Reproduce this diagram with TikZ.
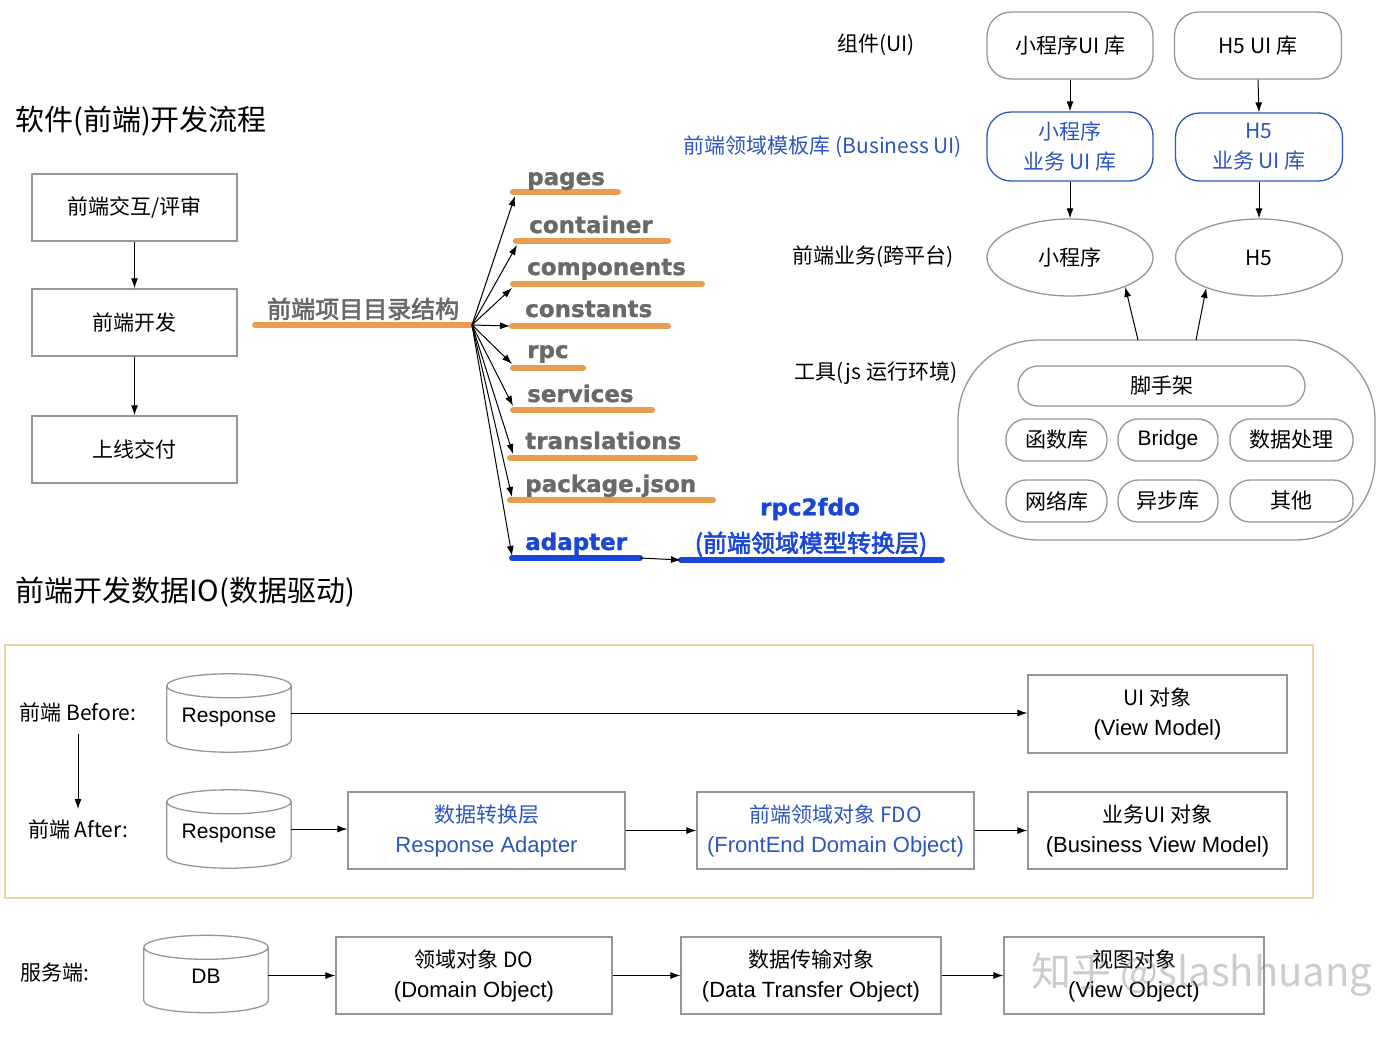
\documentclass[tikz,border=0pt]{standalone}
\usepackage{fontspec}
\setmainfont{Noto Sans CJK SC}
\newfontfamily\cjkbold[FakeBold=2.5]{Noto Sans CJK SC}
\newfontfamily\dirfont[BoldFeatures={FakeBold=1.2}]{DejaVu Sans}
\newfontfamily\lat{Liberation Sans}
\usetikzlibrary{arrows.meta,calc,shapes.geometric}
\definecolor{gline}{RGB}{150,150,150}
\definecolor{uiblue}{RGB}{45,85,190}
\definecolor{vblue}{RGB}{25,70,215}
\definecolor{orng}{RGB}{232,158,78}
\definecolor{dgray}{RGB}{105,105,105}
\definecolor{tanline}{RGB}{236,212,165}
\newcommand\fsz[2]{\fontsize{#1}{#2}\selectfont}
\newcommand\lowtext[1]{\raisebox{-4pt}[0.72em][0.2em]{#1}}
\newcommand\cylshape[1]{%
  \draw[draw=gline, line width=1.3pt] let \p1=(#1.north west), \p2=(#1.south east), \n1={(\x2-\x1)/2} in
    (\x1,\y1-12pt) -- (\x1,\y2+12pt) arc[start angle=180, end angle=360, x radius=\n1, y radius=12pt] -- (\x2,\y1-12pt)
    arc[start angle=0, end angle=360, x radius=\n1, y radius=12pt];}
\begin{document}
\begin{tikzpicture}[x=1pt,y=-1pt,
  box/.style={draw=gline, line width=1.3pt, rectangle, align=center, inner sep=0pt, font=\fsz{21}{30}},
  rbox/.style={box, rounded corners=24pt},
  bbox/.style={box, draw=uiblue, text=uiblue, rounded corners=24pt},
  capsule/.style={box, rounded corners=20pt},
  oval/.style={draw=gline, line width=1.3pt, ellipse, inner sep=0pt, font=\fsz{21}{30}},
  cylnode/.style={inner sep=0pt, minimum width=124, minimum height=78, font=\lat\fsz{21}{26}},
  lbl/.style={inner sep=0pt, font=\fsz{21}{30}},
  arr/.style={-{Latex[length=10pt,width=7pt]}, line width=1pt, black},
  dirline/.style={line width=6pt, line cap=round, orng},
  bline/.style={line width=6pt, line cap=round, vblue},
  dirtxt/.style={font=\dirfont\bfseries\fsz{23}{23}, text=dgray, anchor=base west, inner sep=0pt}]
\useasboundingbox[fill=white] (0,0) rectangle (1400,1044);

% ---------- title 1 and flow ----------
\node[anchor=west, inner sep=0pt, font=\fsz{29}{29}] (title1) at (15,121) {软件(前端)开发流程};
\node[box, minimum width=205, minimum height=67] (f1) at (134.5,207.5) {前端交互/评审};
\node[box, minimum width=205, minimum height=67] (f2) at (134.5,322.5) {前端开发};
\node[box, minimum width=205, minimum height=67] (f3) at (134.5,449.5) {上线交付};
\draw[arr] (f1.south) -- (f2.north);
\draw[arr] (f2.south) -- (f3.north);

% ---------- directory structure ----------
\coordinate (hub) at (472,325);
\coordinate (rootstart) at (255,325);
\draw[dirline] (rootstart) -- (hub);
\node[anchor=base west, inner sep=0pt, font=\cjkbold\fsz{24}{24}, text=dgray] (root) at (267,318) {前端项目目录结构};

\draw[dirline] (513,192) -- (618,192);
\draw[dirline] (516,241) -- (668,241);
\draw[dirline] (513,284) -- (702,284);
\draw[dirline] (512,326) -- (668,326);
\draw[dirline] (513,368) -- (583,368);
\draw[dirline] (513,410) -- (652,410);
\draw[dirline] (510,458) -- (695,458);
\draw[dirline] (510,500) -- (713,500);
\coordinate (ad1) at (512,558);
\coordinate (ad2) at (640,558);
\draw[bline] (ad1) -- (ad2);

\node[dirtxt] (dpages) at (527,185) {pages};
\node[dirtxt] (dcont) at (529,233) {container};
\node[dirtxt] (dcomp) at (527,275) {components};
\node[dirtxt] (dconst) at (525,317) {constants};
\node[dirtxt] (drpc) at (527,358) {rpc};
\node[dirtxt] (dserv) at (527,402) {services};
\node[dirtxt] (dtrans) at (525,449) {translations};
\node[dirtxt] (dpkg) at (525,492) {package.json};
\node[dirtxt, text=vblue] (dadapt) at (525,550) {adapter};

\coordinate (a1) at (515,196);
\coordinate (a2) at (517,245);
\coordinate (a3) at (512,288);
\coordinate (a4) at (510,326);
\coordinate (a5) at (512,364);
\coordinate (a6) at (513,406);
\coordinate (a7) at (513,454);
\coordinate (a8) at (512,497);
\coordinate (a9) at (512,556);
\foreach \t in {a1,a2,a3,a4,a5,a6,a7,a8,a9} \draw[arr] (hub) -- (\t);

\coordinate (rb1) at (681,560);
\coordinate (rb2) at (942,560);
\draw[bline] (rb1) -- (rb2);
\draw[arr] (ad2) -- (rb1);
\node[inner sep=0pt, font=\dirfont\bfseries\fsz{23}{23}, text=vblue] (rpcfdo) at (810,509) {rpc2fdo};
\node[anchor=base, inner sep=0pt, font=\cjkbold\fsz{24}{24}, text=vblue] (convlayer) at (811,552) {(前端领域模型转换层)};

% ---------- top right ----------
\node[lbl] (lui) at (876,45) {组件(UI)};
\node[lbl, text=uiblue] (lbui) at (823,147) {前端领域模板库 (Business UI)};
\node[lbl] (lbiz) at (873,257) {前端业务(跨平台)};
\node[lbl] (ltool) at (876,373) {工具(js 运行环境)};

\node[rbox, minimum width=166, minimum height=67] (ui1) at (1070,45.5) {小程序UI 库};
\node[rbox, minimum width=167, minimum height=67] (ui2) at (1258,45.5) {H5 UI 库};
\node[bbox, minimum width=166, minimum height=69] (bu1) at (1070,146.5) {小程序\\业务 UI 库};
\node[bbox, minimum width=167, minimum height=68] (bu2) at (1259,147) {H5\\业务 UI 库};
\node[oval, minimum width=166, minimum height=77] (el1) at (1070,257.5) {小程序};
\node[oval, minimum width=167, minimum height=77] (el2) at (1259,257.5) {H5};
\draw[arr] (ui1.south) -- (bu1.north);
\draw[arr] (ui2.south) -- (bu2.north);
\draw[arr] (bu1.south) -- (el1.north);
\draw[arr] (bu2.south) -- (el2.north);

\node[draw=gline, line width=1.3pt, rounded corners=80pt, minimum width=417, minimum height=200, inner sep=0pt] (tools) at (1166.5,440) {};
\coordinate (tu1) at (1138,340);
\coordinate (tu2) at (1196,340);
\draw[arr] (tu1) -- (el1.-28);
\draw[arr] (tu2) -- (el2.-150);
\node[capsule, minimum width=287, minimum height=40] (scaf) at (1161.5,386) {脚手架};
\node[capsule, minimum width=101, minimum height=42] (c11) at (1056.5,440) {函数库};
\node[capsule, minimum width=100, minimum height=42, font=\lat\fsz{21}{26}] (c12) at (1168,440) {Bridge};
\node[capsule, minimum width=123, minimum height=42] (c13) at (1291.5,440) {数据处理};
\node[capsule, minimum width=101, minimum height=42] (c21) at (1056.5,501) {网络库};
\node[capsule, minimum width=100, minimum height=42] (c22) at (1168,501) {异步库};
\node[capsule, minimum width=123, minimum height=42] (c23) at (1291.5,501) {其他};

% ---------- data IO ----------
\node[anchor=west, inner sep=0pt, font=\fsz{29}{29}] (title2) at (15,592) {前端开发数据IO(数据驱动)};
\node[draw=tanline, line width=1.5pt, minimum width=1308, minimum height=253, inner sep=0pt] (frame) at (659,771.5) {};

\node[lbl] (bef) at (78,712) {前端 Before:};
\node[lbl] (aft) at (78,829) {前端 After:};
\draw[arr] ([yshift=-12pt]bef.south) -- ([yshift=10pt]aft.north);

\node[cylnode] (r1) at (229,713) {\lowtext{Response}};
\cylshape{r1}
\node[cylnode] (r2) at (229,829) {\lowtext{Response}};
\cylshape{r2}

\node[box, minimum width=259, minimum height=78] (vm) at (1157.5,714) {UI 对象\\{\lat\fsz{22}{30}(View Model)}};
\node[box, text=uiblue, minimum width=277, minimum height=77] (ada) at (486.5,830.5) {数据转换层\\{\lat\fsz{22}{30}Response Adapter}};
\node[box, text=uiblue, minimum width=277, minimum height=77] (fdo) at (835.5,830.5) {前端领域对象 FDO\\{\lat\fsz{22}{30}(FrontEnd Domain Object)}};
\node[box, minimum width=259, minimum height=77] (bvm) at (1157.5,830.5) {业务UI 对象\\{\lat\fsz{22}{30}(Business View Model)}};

\draw[arr] (r1.east) -- (vm.west |- r1.east);
\draw[arr] (r2.east) -- (ada.west |- r2.east);
\draw[arr] (ada.east) -- (fdo.west);
\draw[arr] (fdo.east) -- (bvm.west);

% ---------- server ----------
\node[lbl] (srv) at (55,973) {服务端:};
\node[cylnode, minimum height=77] (db) at (206,974) {\lowtext{DB}};
\cylshape{db}
\node[box, minimum width=276, minimum height=77] (do) at (474,975.5) {领域对象 DO\\{\lat\fsz{22}{30}(Domain Object)}};
\node[box, minimum width=260, minimum height=77] (dto) at (811,975.5) {数据传输对象\\{\lat\fsz{22}{30}(Data Transfer Object)}};
\node[box, minimum width=260, minimum height=77] (vo) at (1134,975.5) {视图对象\\{\lat\fsz{22}{30}(View Object)}};
\draw[arr] (db.east |- do.west) -- (do.west);
\draw[arr] (do.east) -- (dto.west);
\draw[arr] (dto.east) -- (vo.west);

\node[inner sep=0pt, font=\fsz{40}{40}, text=gray, opacity=0.4] (wm) at (1202,975) {知乎 @slashhuang};
\end{tikzpicture}
\end{document}
